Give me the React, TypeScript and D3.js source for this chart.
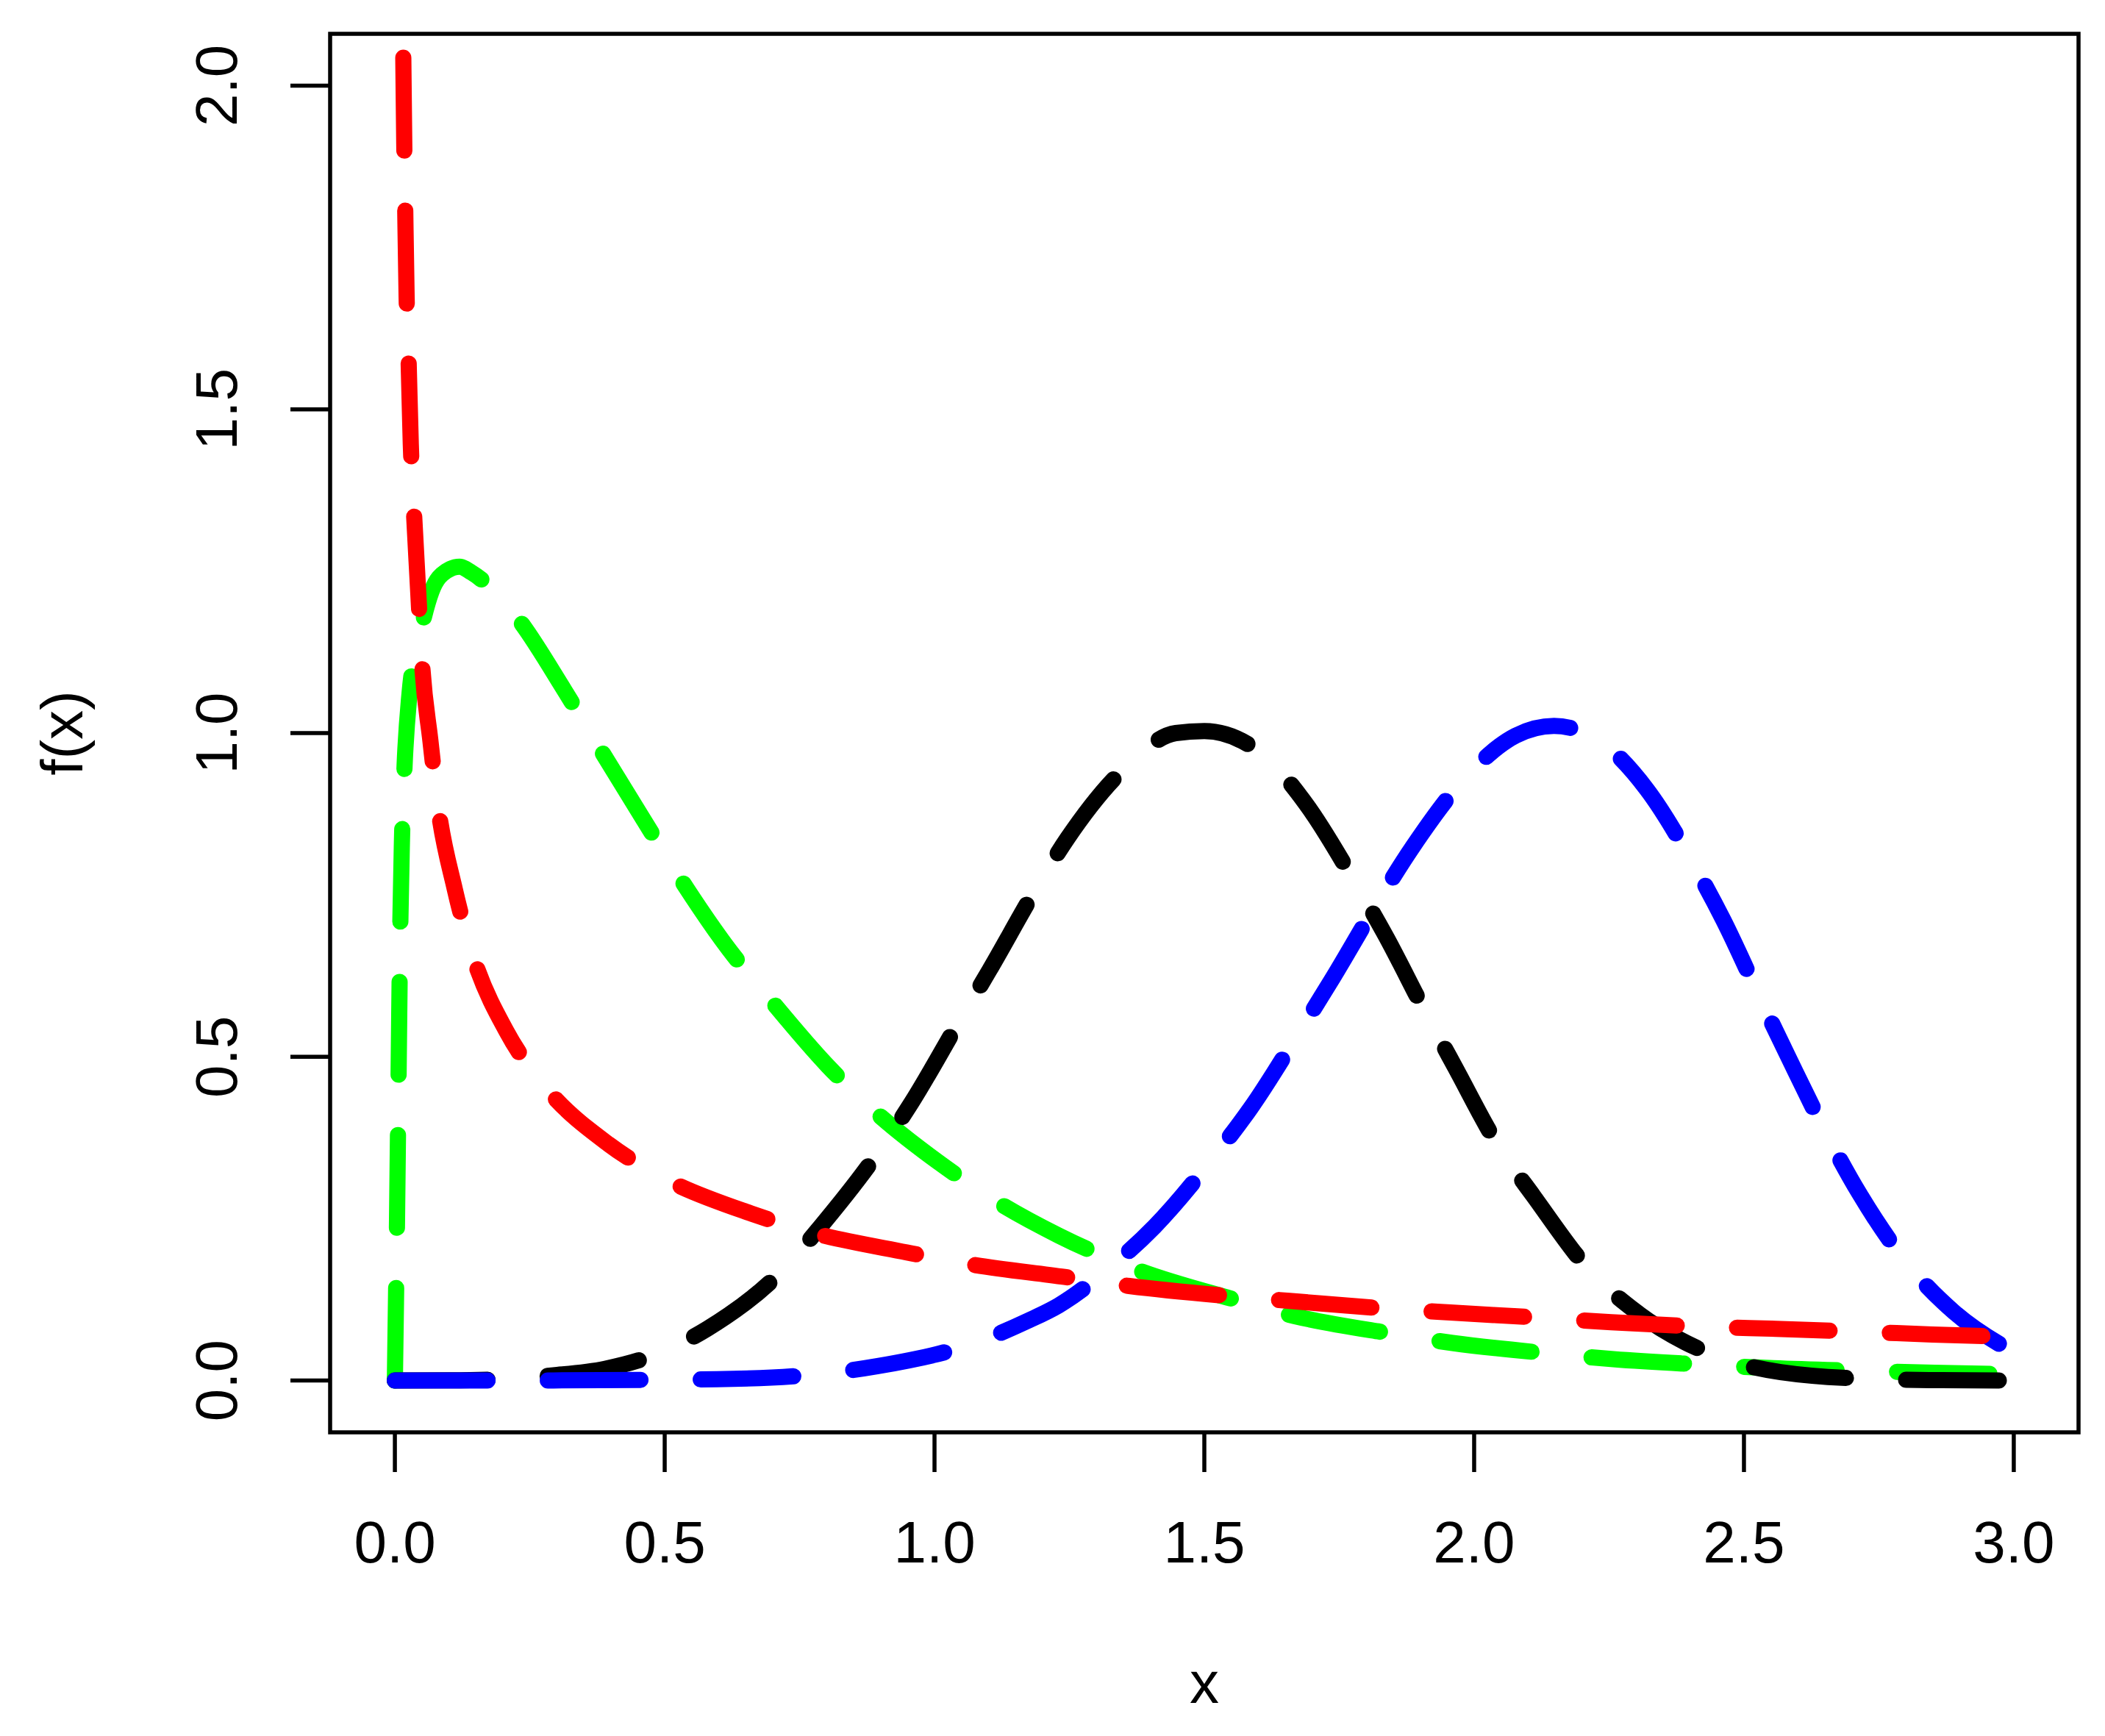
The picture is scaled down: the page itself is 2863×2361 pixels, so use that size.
import React from "react";
import * as d3 from "d3";

const width = 2863;
const height = 2361;
const boxLeft = 449;
const boxRight = 2827;
const boxTop = 46;
const boxBottom = 1948;

const xTicks = [0, 0.5, 1, 1.5, 2, 2.5, 3];
const yTicks = [0, 0.5, 1, 1.5, 2];

// values
const greenX = [0, 0.002, 0.004, 0.006, 0.008, 0.01, 0.013, 0.018, 0.027, 0.046, 0.068, 0.095, 0.12, 0.142, 0.222, 0.315, 0.374, 0.461, 0.522, 0.619, 0.689, 0.802, 0.886, 1.021, 1.116, 1.23, 1.382, 1.552, 1.665, 1.843, 1.96, 2.138, 2.258, 2.438, 2.555, 2.736, 2.853, 3.0];
const greenY = [0, 0.12, 0.25, 0.4, 0.56, 0.7, 0.83, 0.95, 1.06, 1.15, 1.219, 1.25, 1.257, 1.248, 1.183, 1.065, 0.984, 0.866, 0.784, 0.666, 0.595, 0.486, 0.418, 0.329, 0.276, 0.224, 0.169, 0.126, 0.1, 0.073, 0.058, 0.042, 0.033, 0.024, 0.019, 0.0145, 0.012, 0.0094];

const blackX = [0, 0.1, 0.2, 0.294, 0.389, 0.476, 0.579, 0.719, 0.789, 0.897, 0.958, 1.045, 1.102, 1.187, 1.246, 1.354, 1.447, 1.5, 1.612, 1.688, 1.778, 1.834, 1.912, 1.964, 2.047, 2.11, 2.215, 2.299, 2.455, 2.568, 2.75, 2.866, 3.0];
const blackY = [0, 0.0003, 0.002, 0.008, 0.018, 0.038, 0.08, 0.171, 0.238, 0.354, 0.43, 0.554, 0.634, 0.758, 0.837, 0.947, 1.0, 1.003, 0.964, 0.891, 0.771, 0.69, 0.565, 0.485, 0.359, 0.285, 0.169, 0.107, 0.036, 0.013, 0.002, 0.0005, 0];

const blueX = [0, 0.181, 0.294, 0.48, 0.596, 0.778, 0.893, 1.071, 1.175, 1.23, 1.324, 1.408, 1.519, 1.586, 1.678, 1.739, 1.825, 1.886, 1.988, 2.077, 2.148, 2.242, 2.32, 2.408, 2.462, 2.533, 2.582, 2.657, 2.713, 2.809, 2.889, 3.0];
const blueY = [0, 0, 0.0002, 0.0012, 0.002, 0.0094, 0.022, 0.057, 0.093, 0.116, 0.174, 0.238, 0.347, 0.421, 0.541, 0.623, 0.744, 0.824, 0.935, 0.996, 1.011, 0.982, 0.913, 0.795, 0.711, 0.585, 0.5, 0.374, 0.29, 0.174, 0.106, 0.0435];

const redX = [0.0156, 0.0174, 0.0191, 0.0217, 0.0252, 0.0295, 0.0348, 0.0434, 0.0495, 0.066, 0.079, 0.111, 0.14, 0.207, 0.269, 0.396, 0.495, 0.66, 0.771, 0.948, 1.063, 1.241, 1.361, 1.539, 1.658, 1.838, 1.956, 2.134, 2.254, 2.434, 2.551, 2.73, 2.849, 3.0];
const redY = [2.043, 1.909, 1.813, 1.676, 1.582, 1.446, 1.351, 1.216, 1.119, 0.987, 0.893, 0.759, 0.668, 0.539, 0.463, 0.365, 0.314, 0.258, 0.229, 0.198, 0.18, 0.16, 0.146, 0.131, 0.123, 0.111, 0.105, 0.0965, 0.09, 0.083, 0.08, 0.075, 0.071, 0.0675];

// drawing order as in the original
const series = [
  { name: "green", color: "#00ff00", xs: greenX, ys: greenY },
  { name: "black", color: "#000000", xs: blackX, ys: blackY },
  { name: "blue", color: "#0000ff", xs: blueX, ys: blueY },
  { name: "red", color: "#ff0000", xs: redX, ys: redY },
];

const font = "'Liberation Sans', Arial, Helvetica, sans-serif";
const fontSize = 80;

export default function App() {
  const x = d3.scaleLinear().domain([-0.12, 3.12]).range([boxLeft, boxRight]);
  const y = d3.scaleLinear().domain([-0.08, 2.08]).range([boxBottom, boxTop]);

  const line = d3
    .line<[number, number]>()
    .curve(d3.curveMonotoneX)
    .x(d => x(d[0]))
    .y(d => y(d[1]));

  const fmt = d3.format(".1f");

  return (
    <svg
      width={width}
      height={height}
      viewBox={`0 0 ${width} ${height}`}
      style={{ position: "absolute", left: 0, top: 0, background: "#fff" }}
    >
      <defs>
        <clipPath id="plotClip">
          <rect x={boxLeft} y={boxTop} width={boxRight - boxLeft} height={boxBottom - boxTop} />
        </clipPath>
      </defs>
      <rect x={0} y={0} width={width} height={height} fill="#fff" />

      <g clipPath="url(#plotClip)">
        {series.map(s => (
          <path
            key={s.name}
            d={line(s.xs.map((v, i) => [v, s.ys[i]] as [number, number])) || ""}
            fill="none"
            stroke={s.color}
            strokeWidth={22}
            strokeDasharray="126 82"
            strokeLinecap="round"
            strokeLinejoin="round"
          />
        ))}
      </g>

      {/* box */}
      <rect
        x={boxLeft}
        y={boxTop}
        width={boxRight - boxLeft}
        height={boxBottom - boxTop}
        fill="none"
        stroke="#000"
        strokeWidth={5.5}
      />

      {/* x axis */}
      <g stroke="#000" strokeWidth={5.5}>
        {xTicks.map(t => (
          <line key={t} x1={x(t)} x2={x(t)} y1={boxBottom} y2={boxBottom + 54} />
        ))}
        {yTicks.map(t => (
          <line key={t} x1={boxLeft} x2={boxLeft - 54} y1={y(t)} y2={y(t)} />
        ))}
      </g>
      <g fontFamily={font} fontSize={fontSize} fill="#000" textAnchor="middle">
        {xTicks.map(t => (
          <text key={t} x={x(t)} y={2125}>
            {fmt(t)}
          </text>
        ))}
        {yTicks.map(t => (
          <text key={t} transform={`translate(322,${y(t)}) rotate(-90)`}>
            {fmt(t)}
          </text>
        ))}
        <text x={(boxLeft + boxRight) / 2} y={2316}>x</text>
        <text transform={`translate(112,${(boxTop + boxBottom) / 2}) rotate(-90)`}>f(x)</text>
      </g>
    </svg>
  );
}
